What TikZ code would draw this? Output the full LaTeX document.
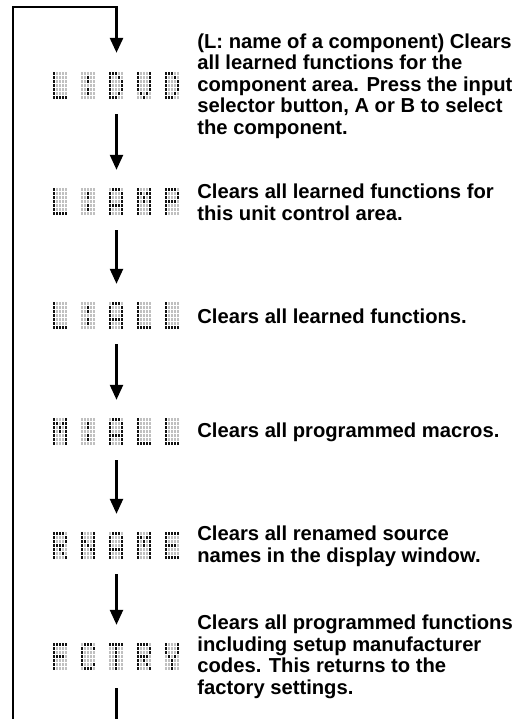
\documentclass[tikz,border=0pt]{standalone}
\usepackage{fontspec}
\setmainfont{Liberation Sans}
\usetikzlibrary{positioning, arrows.meta, calc}
\definecolor{dotoff}{RGB}{192,192,192}
\definecolor{doton}{RGB}{18,18,18}

% 5x7 glyphs, top row first
\def\glyphL{{1,0,0,0,0},{1,0,0,0,0},{1,0,0,0,0},{1,0,0,0,0},{1,0,0,0,0},{1,0,0,0,0},{1,1,1,1,1}}
\def\glyphCo{{0,0,0,0,0},{0,0,1,0,0},{0,0,1,0,0},{0,0,0,0,0},{0,0,1,0,0},{0,0,1,0,0},{0,0,0,0,0}}
\def\glyphD{{1,1,1,0,0},{1,0,0,1,0},{1,0,0,0,1},{1,0,0,0,1},{1,0,0,0,1},{1,0,0,1,0},{1,1,1,0,0}}
\def\glyphV{{1,0,0,0,1},{1,0,0,0,1},{1,0,0,0,1},{1,0,0,0,1},{1,0,0,0,1},{0,1,0,1,0},{0,0,1,0,0}}
\def\glyphA{{0,1,1,1,0},{1,0,0,0,1},{1,0,0,0,1},{1,0,0,0,1},{1,1,1,1,1},{1,0,0,0,1},{1,0,0,0,1}}
\def\glyphM{{1,0,0,0,1},{1,1,0,1,1},{1,0,1,0,1},{1,0,1,0,1},{1,0,0,0,1},{1,0,0,0,1},{1,0,0,0,1}}
\def\glyphP{{1,1,1,1,0},{1,0,0,0,1},{1,0,0,0,1},{1,1,1,1,0},{1,0,0,0,0},{1,0,0,0,0},{1,0,0,0,0}}
\def\glyphR{{1,1,1,1,0},{1,0,0,0,1},{1,0,0,0,1},{1,1,1,1,0},{1,0,1,0,0},{1,0,0,1,0},{1,0,0,0,1}}
\def\glyphN{{1,0,0,0,1},{1,0,0,0,1},{1,1,0,0,1},{1,0,1,0,1},{1,0,0,1,1},{1,0,0,0,1},{1,0,0,0,1}}
\def\glyphE{{1,1,1,1,1},{1,0,0,0,0},{1,0,0,0,0},{1,1,1,1,0},{1,0,0,0,0},{1,0,0,0,0},{1,1,1,1,1}}
\def\glyphF{{1,1,1,1,1},{1,0,0,0,0},{1,0,0,0,0},{1,1,1,1,0},{1,0,0,0,0},{1,0,0,0,0},{1,0,0,0,0}}
\def\glyphC{{0,1,1,1,0},{1,0,0,0,1},{1,0,0,0,0},{1,0,0,0,0},{1,0,0,0,0},{1,0,0,0,1},{0,1,1,1,0}}
\def\glyphT{{1,1,1,1,1},{0,0,1,0,0},{0,0,1,0,0},{0,0,1,0,0},{0,0,1,0,0},{0,0,1,0,0},{0,0,1,0,0}}
\def\glyphY{{1,0,0,0,1},{1,0,0,0,1},{1,0,0,0,1},{0,1,0,1,0},{0,0,1,0,0},{0,0,1,0,0},{0,0,1,0,0}}

% one dot-matrix character, #1 = x offset, #2 = glyph name
\newcommand{\dmchar}[2]{%
  \expandafter\let\expandafter\thisglyph\csname glyph#2\endcsname
  \foreach \bits [count=\row] in \thisglyph {%
    \foreach \b [count=\col] in \bits {%
      \ifnum\b=1 \def\dotcol{doton}\else\def\dotcol{dotoff}\fi
      \fill[\dotcol] ({#1+(\col-1)*3},{28-(\row-1)*4}) rectangle ++(2.3,-3.3);
    }}}
% a five-character display drawn inside node #1
\newcommand{\dmword}[2]{%
  \begin{scope}[shift={(#1.south west)}]
    \foreach \g [count=\k] in {#2} {\dmchar{(\k-1)*28}{\g}}
  \end{scope}}

\begin{document}
\begin{tikzpicture}[
    x=1pt, y=1pt,
    node distance=17pt,
    display/.style={minimum width=127pt, minimum height=28pt, inner sep=0pt},
    desc/.style={font=\fontsize{20.2}{21.6}\selectfont\bfseries, align=left, inner sep=0pt},
    flow/.style={-{Triangle[width=13pt,length=15pt]}, line width=2.4pt, shorten <=14pt, shorten >=18pt},
    loopline/.style={line width=2.8pt}
  ]
  \useasboundingbox (0,0) rectangle (522,719);

  % Displays
  \node[display] (dvd)   at (116.5,633) {};
  \node[display] (amp)   at (116.5,517) {};
  \node[display] (all)   at (116.5,403) {};
  \node[display] (macro) at (116.5,287) {};
  \node[display] (rname) at (116.5,173) {};
  \node[display] (fctry) at (116.5,62)  {};

  \dmword{dvd}{L,Co,D,V,D}
  \dmword{amp}{L,Co,A,M,P}
  \dmword{all}{L,Co,A,L,L}
  \dmword{macro}{M,Co,A,L,L}
  \dmword{rname}{R,N,A,M,E}
  \dmword{fctry}{F,C,T,R,Y}

  % Descriptions
  \node[desc, right=of dvd] (dvdtext) {(L: name of a component) Clears\\all learned functions for the\\component area. Press the input\\selector button, A or B to select\\the component.};
  \node[desc, right=of amp] (amptext) {Clears all learned functions for\\this unit control area.};
  \node[desc, right=of all] (alltext) {Clears all learned functions.};
  \node[desc, right=of macro] (macrotext) {Clears all programmed macros.};
  \node[desc, right=of rname] (rnametext) {Clears all renamed source\\names in the display window.};
  \node[desc, right=of fctry] (fctrytext) {Clears all programmed functions\\including setup manufacturer\\codes. This returns to the\\factory settings.};

  % Arrows
  \draw[flow] (dvd) -- (amp);
  \draw[flow] (amp) -- (all);
  \draw[flow] (all) -- (macro);
  \draw[flow] (macro) -- (rname);
  \draw[flow] (rname) -- (fctry);

  % Return loop
  \coordinate (cutL) at (13,0);
  \coordinate (cutR) at (116.5,0);
  \coordinate (top)  at (116.5,712);
  \draw[loopline, -{Triangle[width=13pt,length=15pt]}, shorten >=19pt] (cutL) |- (top) -- (dvd);
  \draw[loopline, shorten <=17pt] (fctry) -- (cutR);
\end{tikzpicture}
\end{document}
